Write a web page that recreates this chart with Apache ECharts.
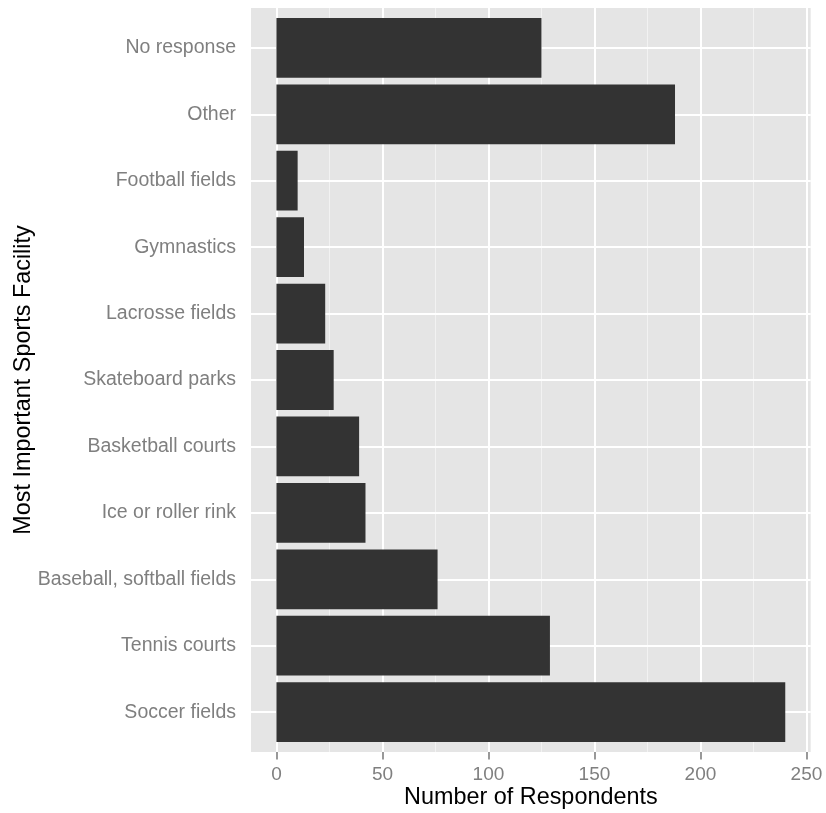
<!DOCTYPE html>
<html>
<head>
<meta charset="utf-8">
<script src="https://cdn.jsdelivr.net/npm/echarts@6/dist/echarts.min.js"></script>
<style>
html,body{margin:0;padding:0;background:#fff;}
#chart{width:826px;height:813px;}
</style>
</head>
<body>
<div id="chart"></div>
<script>
// Categories listed from bottom to top
var categories = ["Soccer fields", "Tennis courts", "Baseball, softball fields", "Ice or roller rink",
  "Basketball courts", "Skateboard parks", "Lacrosse fields", "Gymnastics", "Football fields",
  "Other", "No response"];
var respondents = [240, 129, 76, 42, 39, 27, 23, 13, 10, 188, 125];
var xTicks = [0, 50, 100, 150, 200, 250];
var xMinor = [25, 75, 125, 175, 225];
var xTitle = "Number of Respondents";
var yTitle = "Most Important Sports Facility";

var FONT = "'Liberation Sans', Arial, Helvetica, sans-serif";
var catPos = categories.map(function (c, i) { return i + 1; });
var barData = respondents.map(function (v, i) { return [v, i + 1]; });

function lines(vals, axis, color, width) {
  return vals.map(function (v) {
    var o = {}; o[axis] = v;
    o.lineStyle = { color: color, width: width, type: 'solid' };
    return o;
  });
}

var chart = echarts.init(document.getElementById('chart'), null, { renderer: 'canvas' });
chart.setOption({
  animation: false,
  backgroundColor: '#ffffff',
  grid: {
    left: 251, right: 15.3, top: 8, bottom: 61,
    show: true, backgroundColor: '#e5e5e5', borderWidth: 0,
    containLabel: false, outerBoundsMode: 'none'
  },
  xAxis: {
    type: 'value', min: -12, max: 252,
    axisLine: { show: false },
    splitLine: { show: false },
    axisTick: { show: true, customValues: xTicks, length: 7.5, lineStyle: { color: '#7f7f7f', width: 1.6 } },
    axisLabel: { customValues: xTicks, color: '#7f7f7f', fontSize: 19, fontFamily: FONT, margin: 13.5 },
    name: xTitle, nameLocation: 'middle', nameGap: 34, nameMoveOverlap: false,
    nameTextStyle: { color: '#000000', fontSize: 23.4, fontFamily: FONT }
  },
  yAxis: {
    type: 'value', min: 0.4, max: 11.6,
    axisLine: { show: false },
    splitLine: { show: false },
    axisTick: { show: true, customValues: catPos, length: 7.5, lineStyle: { color: '#7f7f7f', width: 1.6 } },
    axisLabel: {
      customValues: catPos, color: '#7f7f7f', fontSize: 19.5, fontFamily: FONT, margin: 15,
      formatter: function (v) { return categories[Math.round(v) - 1] || ''; }
    },
    name: yTitle, nameLocation: 'middle', nameGap: 216, nameRotate: 90, nameMoveOverlap: false,
    nameTextStyle: { color: '#000000', fontSize: 23.4, fontFamily: FONT }
  },
  series: [
    {
      type: 'line', data: [], z: 1, silent: true,
      markLine: {
        z: 1, zlevel: 0,
        silent: true, symbol: 'none', animation: false,
        label: { show: false },
        emphasis: { disabled: true },
        data: [].concat(
          lines(xMinor, 'xAxis', '#f2f2f2', 1),
          lines(xTicks, 'xAxis', '#ffffff', 2),
          lines(catPos, 'yAxis', '#ffffff', 2)
        )
      }
    },
    {
      type: 'custom', z: 10, silent: true,
      data: barData,
      encode: { x: 0, y: 1 },
      renderItem: function (params, api) {
        var v = api.value(0), c = api.value(1);
        var p0 = api.coord([0, c]);
        var p1 = api.coord([v, c]);
        var h = api.size([0, 0.9])[1];
        return {
          type: 'rect',
          shape: { x: p0[0], y: p0[1] - h / 2, width: p1[0] - p0[0], height: h },
          style: { fill: '#333333' }
        };
      }
    }
  ]
});
</script>
</body>
</html>
